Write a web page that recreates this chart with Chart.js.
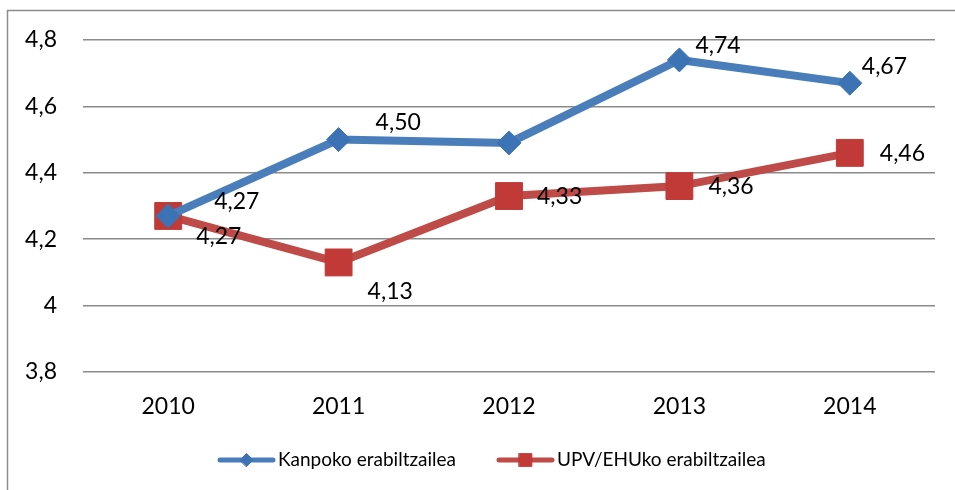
<!DOCTYPE html>
<html>
<head>
<meta charset="utf-8">
<script src="https://cdn.jsdelivr.net/npm/chart.js@4/dist/chart.umd.min.js"></script>
<style>
  html, body { margin: 0; padding: 0; background: #ffffff; }
  #wrap { width: 955px; height: 490px; position: relative; }
</style>
</head>
<body>
<div id="wrap"><canvas id="chart" width="955" height="490"></canvas></div>
<script>
const years = ["2010", "2011", "2012", "2013", "2014"];
const kanpoko = [4.27, 4.50, 4.49, 4.74, 4.67];
const upvEhu = [4.27, 4.13, 4.33, 4.36, 4.46];
const yTicks = [3.8, 4.0, 4.2, 4.4, 4.6, 4.8];

const seriesNames = ["Kanpoko erabiltzailea", "UPV/EHUko erabiltzailea"];

// label placement per point (left edge offset, vertical centre offset); null = no label
const labelOffsets = [
  [[46, -14], [37, -17], null, [16, -14], [12, -17]],
  [[28, 21], [29, 29], [28, 1], [29, 0], [30, 1]],
];

const BLUE = "#4a7ebb";
const BLUE_MARK = "#3c73b5";
const RED = "#be4b48";
const RED_MARK = "#c13a37";

function fmt(v) {
  return v.toFixed(2).replace(".", ",");
}

const frame = {
  id: "frame",
  beforeDraw(chart) {
    const ctx = chart.ctx;
    ctx.save();
    ctx.strokeStyle = "#8c8c8c";
    ctx.lineWidth = 1.5;
    ctx.beginPath();
    ctx.moveTo(7.5, 490);
    ctx.lineTo(7.5, 10.5);
    ctx.lineTo(955, 10.5);
    ctx.stroke();
    ctx.restore();
  },
};

const valueLabels = {
  id: "valueLabels",
  afterDatasetsDraw(chart) {
    const ctx = chart.ctx;
    ctx.save();
    ctx.font = "23px Lato";
    ctx.fillStyle = "#000000";
    ctx.textAlign = "left";
    ctx.textBaseline = "middle";
    chart.data.datasets.forEach((ds, i) => {
      const meta = chart.getDatasetMeta(i);
      meta.data.forEach((pt, j) => {
        const off = labelOffsets[i][j];
        if (!off) return;
        ctx.fillText(fmt(ds.data[j]), pt.x + off[0], pt.y + off[1]);
      });
    });
    ctx.restore();
  },
};

const legendBox = {
  id: "legendBox",
  afterDraw(chart) {
    const ctx = chart.ctx;
    const y = 460;
    const items = [
      { x: 218, color: BLUE, mark: BLUE_MARK, style: "rectRot", r: 6.5 },
      { x: 497, color: RED, mark: RED_MARK, style: "rect", r: 9 },
    ];
    ctx.save();
    items.forEach((it, i) => {
      ctx.strokeStyle = it.color;
      ctx.lineWidth = 5;
      ctx.lineCap = "round";
      ctx.beginPath();
      ctx.moveTo(it.x + 2, y);
      ctx.lineTo(it.x + 55, y);
      ctx.stroke();
      ctx.fillStyle = it.mark;
      ctx.strokeStyle = it.mark;
      ctx.lineWidth = 1;
      Chart.helpers.drawPoint(ctx, { pointStyle: it.style, radius: it.r, borderWidth: 1 }, it.x + 28.5, y);
      ctx.fillStyle = "#000000";
      ctx.font = "19px Lato";
      ctx.textAlign = "left";
      ctx.textBaseline = "middle";
      ctx.fillText(seriesNames[i], it.x + 60, y);
    });
    ctx.restore();
  },
};

new Chart(document.getElementById("chart"), {
  type: "line",
  data: {
    labels: years,
    datasets: [
      {
        label: seriesNames[0],
        data: kanpoko,
        borderColor: BLUE,
        borderWidth: 8,
        pointStyle: "rectRot",
        pointRadius: 12,
        pointBackgroundColor: BLUE_MARK,
        pointBorderColor: BLUE_MARK,
        pointBorderWidth: 1,
        tension: 0,
      },
      {
        label: seriesNames[1],
        data: upvEhu,
        borderColor: RED,
        borderWidth: 8,
        pointStyle: "rect",
        pointRadius: 19,
        pointBackgroundColor: RED_MARK,
        pointBorderColor: RED_MARK,
        pointBorderWidth: 1,
        tension: 0,
      },
    ],
  },
  options: {
    responsive: false,
    animation: false,
    devicePixelRatio: 1,
    layout: { padding: { top: 40, right: 17, left: 0, bottom: 0 } },
    plugins: {
      legend: { display: false },
      tooltip: { enabled: false },
    },
    scales: {
      x: {
        offset: true,
        grid: { display: false, drawTicks: false },
        border: { display: false },
        ticks: { color: "#000000", font: { family: "Lato", size: 23 }, padding: 21 },
        afterFit: (s) => { s.height = 118; },
      },
      y: {
        min: 3.8,
        max: 4.8,
        afterBuildTicks: (s) => { s.ticks = yTicks.map((v) => ({ value: v })); },
        grid: { color: "#8a8a8a", lineWidth: 1.5, drawTicks: false },
        border: { display: false },
        ticks: {
          color: "#000000",
          font: { family: "Lato", size: 23 },
          padding: 26,
          callback: (v) => (v === 4 ? "4" : String(Number(v).toFixed(1)).replace(".", ",")),
        },
        afterFit: (s) => { s.width = 83; },
      },
    },
  },
  plugins: [frame, valueLabels, legendBox],
});
</script>
</body>
</html>
